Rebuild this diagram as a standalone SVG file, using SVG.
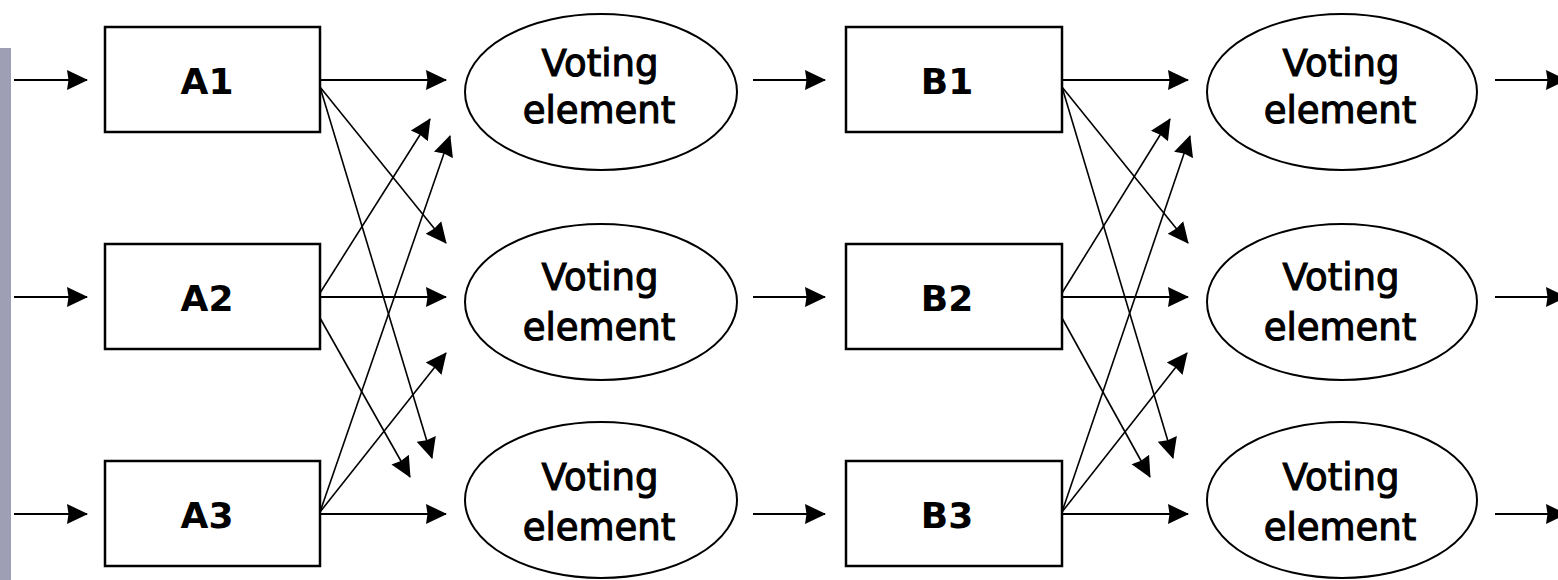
<svg xmlns="http://www.w3.org/2000/svg" width="1558" height="580" viewBox="0 0 1558 580">
  <style>
    .box { fill: #ffffff; stroke: #000000; stroke-width: 2.5; }
    .voter { fill: #ffffff; stroke: #000000; stroke-width: 2; }
    .label { font-family: "DejaVu Sans", "Liberation Sans", sans-serif; font-weight: bold; font-size: 36px; fill: #000000; text-anchor: middle; }
    .vtext { font-family: "DejaVu Sans", "Liberation Sans", sans-serif; font-size: 37px; fill: #000000; stroke: #000000; stroke-width: 1.1; text-anchor: middle; }
    .wire { fill: none; stroke: #000000; stroke-width: 2.2; marker-end: url(#head); }
    .cross { fill: none; stroke: #000000; stroke-width: 1.6; marker-end: url(#head); }
  </style>
  <defs>
    <!-- chunky filled arrowhead shared by every connector -->
    <marker id="head" markerUnits="userSpaceOnUse" viewBox="0 0 21 22" markerWidth="21" markerHeight="22" refX="20" refY="11" orient="auto">
      <path d="M0,1 L21,11 L0,21 L1.5,11 Z" fill="#000000"/>
    </marker>
  </defs>

  <rect width="1558" height="580" fill="#ffffff"/>
  <!-- side bar -->
  <rect x="0" y="48" width="11" height="532" fill="#9e9fb4"/>

  <!-- connectors -->
  <g id="connectors">
    <!-- inputs -->
    <line class="wire" x1="14" y1="80" x2="87" y2="80"/>
    <line class="wire" x1="14" y1="297" x2="87" y2="297"/>
    <line class="wire" x1="14" y1="514" x2="87" y2="514"/>
    <!-- stage A straight -->
    <line class="wire" x1="320" y1="80" x2="446" y2="80"/>
    <line class="wire" x1="320" y1="297" x2="446" y2="297"/>
    <line class="wire" x1="320" y1="514" x2="446" y2="514"/>
    <!-- stage A cross links -->
    <line class="cross" x1="320" y1="87" x2="446" y2="243"/>
    <line class="cross" x1="320" y1="87" x2="432" y2="458"/>
    <line class="cross" x1="320" y1="293" x2="430" y2="119"/>
    <line class="cross" x1="320" y1="318" x2="410" y2="477"/>
    <line class="cross" x1="320" y1="512" x2="450" y2="136"/>
    <line class="cross" x1="320" y1="512" x2="446" y2="353"/>
    <!-- voters to stage B -->
    <line class="wire" x1="753" y1="80" x2="825" y2="80"/>
    <line class="wire" x1="753" y1="297" x2="825" y2="297"/>
    <line class="wire" x1="753" y1="514" x2="825" y2="514"/>
    <!-- stage B straight -->
    <line class="wire" x1="1062" y1="80" x2="1188" y2="80"/>
    <line class="wire" x1="1062" y1="297" x2="1188" y2="297"/>
    <line class="wire" x1="1062" y1="514" x2="1188" y2="514"/>
    <!-- stage B cross links -->
    <line class="cross" x1="1062" y1="87" x2="1188" y2="243"/>
    <line class="cross" x1="1062" y1="87" x2="1173" y2="458"/>
    <line class="cross" x1="1062" y1="293" x2="1170" y2="119"/>
    <line class="cross" x1="1062" y1="318" x2="1150" y2="477"/>
    <line class="cross" x1="1062" y1="512" x2="1190" y2="136"/>
    <line class="cross" x1="1062" y1="512" x2="1187" y2="353"/>
    <!-- outputs -->
    <line class="wire" x1="1495" y1="80" x2="1566" y2="80"/>
    <line class="wire" x1="1495" y1="297" x2="1566" y2="297"/>
    <line class="wire" x1="1495" y1="514" x2="1566" y2="514"/>
  </g>

  <!-- stage A modules -->
  <g id="A1"><rect class="box" x="105" y="27" width="215" height="105"/><text class="label" x="207" y="94">A1</text></g>
  <g id="A2"><rect class="box" x="105" y="244" width="215" height="105"/><text class="label" x="207" y="311">A2</text></g>
  <g id="A3"><rect class="box" x="105" y="461" width="215" height="105"/><text class="label" x="207" y="528">A3</text></g>

  <!-- first voting column -->
  <g id="voterA1"><ellipse class="voter" cx="601" cy="92" rx="136" ry="78"/><text class="vtext" x="600" y="76">Voting</text><text class="vtext" x="599" y="123">element</text></g>
  <g id="voterA2"><ellipse class="voter" cx="601" cy="302" rx="136" ry="78"/><text class="vtext" x="600" y="290">Voting</text><text class="vtext" x="599" y="340">element</text></g>
  <g id="voterA3"><ellipse class="voter" cx="601" cy="500" rx="136" ry="78"/><text class="vtext" x="600" y="490">Voting</text><text class="vtext" x="599" y="540">element</text></g>

  <!-- stage B modules -->
  <g id="B1"><rect class="box" x="846" y="27" width="216" height="105"/><text class="label" x="947" y="94">B1</text></g>
  <g id="B2"><rect class="box" x="846" y="244" width="216" height="105"/><text class="label" x="947" y="311">B2</text></g>
  <g id="B3"><rect class="box" x="846" y="461" width="216" height="105"/><text class="label" x="947" y="528">B3</text></g>

  <!-- second voting column -->
  <g id="voterB1"><ellipse class="voter" cx="1342" cy="92" rx="135" ry="78"/><text class="vtext" x="1341" y="76">Voting</text><text class="vtext" x="1340" y="123">element</text></g>
  <g id="voterB2"><ellipse class="voter" cx="1342" cy="302" rx="135" ry="78"/><text class="vtext" x="1341" y="290">Voting</text><text class="vtext" x="1340" y="340">element</text></g>
  <g id="voterB3"><ellipse class="voter" cx="1342" cy="500" rx="135" ry="78"/><text class="vtext" x="1341" y="490">Voting</text><text class="vtext" x="1340" y="540">element</text></g>
</svg>
